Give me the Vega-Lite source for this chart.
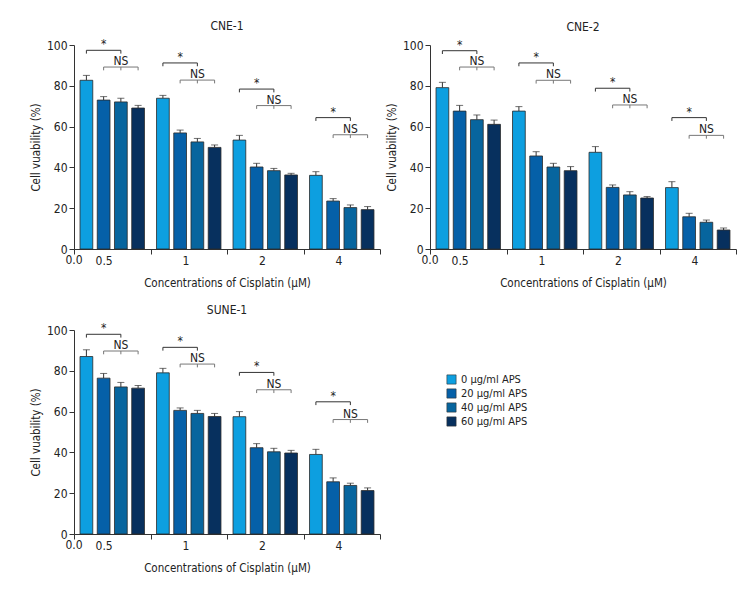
{
  "$schema": "https://vega.github.io/schema/vega-lite/v6.json",
  "padding": {"left": 30, "top": 20, "right": 5, "bottom": 5},
  "config": {
    "font": "DejaVu Sans Condensed, sans-serif",
    "view": {"stroke": null},
    "axis": {"grid": false, "domainColor": "#333", "tickColor": "#333", "labelColor": "#222", "titleColor": "#222", "labelFontSize": 12, "titleFontSize": 11.5, "titleFontWeight": "normal", "labelFont": "DejaVu Sans Condensed, sans-serif", "titleFont": "DejaVu Sans Condensed, sans-serif"},
    "legend": {"labelFontSize": 11, "labelFont": "DejaVu Sans Condensed, sans-serif", "labelColor": "#222"},
    "header": {"labelFontSize": 12, "labelFont": "DejaVu Sans Condensed, sans-serif", "labelColor": "#222"}
  },
  "data": {"values": [
    {"k":"bar","cell":"CNE-1","conc":"0.5","aps":"0 µg/ml APS","v":82.7,"e":85.1},
    {"k":"bar","cell":"CNE-1","conc":"0.5","aps":"20 µg/ml APS","v":73.0,"e":74.7},
    {"k":"bar","cell":"CNE-1","conc":"0.5","aps":"40 µg/ml APS","v":72.1,"e":73.9},
    {"k":"bar","cell":"CNE-1","conc":"0.5","aps":"60 µg/ml APS","v":69.1,"e":70.4},
    {"k":"bar","cell":"CNE-1","conc":"1","aps":"0 µg/ml APS","v":73.9,"e":75.3},
    {"k":"bar","cell":"CNE-1","conc":"1","aps":"20 µg/ml APS","v":56.9,"e":58.3},
    {"k":"bar","cell":"CNE-1","conc":"1","aps":"40 µg/ml APS","v":52.5,"e":54.2},
    {"k":"bar","cell":"CNE-1","conc":"1","aps":"60 µg/ml APS","v":49.8,"e":51.0},
    {"k":"bar","cell":"CNE-1","conc":"2","aps":"0 µg/ml APS","v":53.4,"e":55.7},
    {"k":"bar","cell":"CNE-1","conc":"2","aps":"20 µg/ml APS","v":40.2,"e":42.0},
    {"k":"bar","cell":"CNE-1","conc":"2","aps":"40 µg/ml APS","v":38.4,"e":39.5},
    {"k":"bar","cell":"CNE-1","conc":"2","aps":"60 µg/ml APS","v":36.3,"e":37.1},
    {"k":"bar","cell":"CNE-1","conc":"4","aps":"0 µg/ml APS","v":36.1,"e":37.9},
    {"k":"bar","cell":"CNE-1","conc":"4","aps":"20 µg/ml APS","v":23.5,"e":24.7},
    {"k":"bar","cell":"CNE-1","conc":"4","aps":"40 µg/ml APS","v":20.3,"e":21.6},
    {"k":"bar","cell":"CNE-1","conc":"4","aps":"60 µg/ml APS","v":19.3,"e":20.8},
    {"k":"bar","cell":"CNE-2","conc":"0.5","aps":"0 µg/ml APS","v":79.1,"e":81.7},
    {"k":"bar","cell":"CNE-2","conc":"0.5","aps":"20 µg/ml APS","v":67.6,"e":70.4},
    {"k":"bar","cell":"CNE-2","conc":"0.5","aps":"40 µg/ml APS","v":63.4,"e":65.7},
    {"k":"bar","cell":"CNE-2","conc":"0.5","aps":"60 µg/ml APS","v":61.1,"e":63.2},
    {"k":"bar","cell":"CNE-2","conc":"1","aps":"0 µg/ml APS","v":67.6,"e":69.8},
    {"k":"bar","cell":"CNE-2","conc":"1","aps":"20 µg/ml APS","v":45.6,"e":47.7},
    {"k":"bar","cell":"CNE-2","conc":"1","aps":"40 µg/ml APS","v":40.2,"e":42.0},
    {"k":"bar","cell":"CNE-2","conc":"1","aps":"60 µg/ml APS","v":38.4,"e":40.4},
    {"k":"bar","cell":"CNE-2","conc":"2","aps":"0 µg/ml APS","v":47.4,"e":50.2},
    {"k":"bar","cell":"CNE-2","conc":"2","aps":"20 µg/ml APS","v":30.2,"e":31.4},
    {"k":"bar","cell":"CNE-2","conc":"2","aps":"40 µg/ml APS","v":26.5,"e":28.1},
    {"k":"bar","cell":"CNE-2","conc":"2","aps":"60 µg/ml APS","v":25.0,"e":25.7},
    {"k":"bar","cell":"CNE-2","conc":"4","aps":"0 µg/ml APS","v":30.1,"e":33.0},
    {"k":"bar","cell":"CNE-2","conc":"4","aps":"20 µg/ml APS","v":15.8,"e":17.5},
    {"k":"bar","cell":"CNE-2","conc":"4","aps":"40 µg/ml APS","v":13.1,"e":14.2},
    {"k":"bar","cell":"CNE-2","conc":"4","aps":"60 µg/ml APS","v":9.3,"e":10.3},
    {"k":"bar","cell":"SUNE-1","conc":"0.5","aps":"0 µg/ml APS","v":87.0,"e":90.3},
    {"k":"bar","cell":"SUNE-1","conc":"0.5","aps":"20 µg/ml APS","v":76.4,"e":78.7},
    {"k":"bar","cell":"SUNE-1","conc":"0.5","aps":"40 µg/ml APS","v":72.1,"e":74.3},
    {"k":"bar","cell":"SUNE-1","conc":"0.5","aps":"60 µg/ml APS","v":71.5,"e":72.8},
    {"k":"bar","cell":"SUNE-1","conc":"1","aps":"0 µg/ml APS","v":79.0,"e":81.2},
    {"k":"bar","cell":"SUNE-1","conc":"1","aps":"20 µg/ml APS","v":60.6,"e":61.8},
    {"k":"bar","cell":"SUNE-1","conc":"1","aps":"40 µg/ml APS","v":59.1,"e":60.6},
    {"k":"bar","cell":"SUNE-1","conc":"1","aps":"60 µg/ml APS","v":57.6,"e":59.1},
    {"k":"bar","cell":"SUNE-1","conc":"2","aps":"0 µg/ml APS","v":57.5,"e":60.0},
    {"k":"bar","cell":"SUNE-1","conc":"2","aps":"20 µg/ml APS","v":42.3,"e":44.3},
    {"k":"bar","cell":"SUNE-1","conc":"2","aps":"40 µg/ml APS","v":40.3,"e":42.0},
    {"k":"bar","cell":"SUNE-1","conc":"2","aps":"60 µg/ml APS","v":39.7,"e":41.0},
    {"k":"bar","cell":"SUNE-1","conc":"4","aps":"0 µg/ml APS","v":39.0,"e":41.5},
    {"k":"bar","cell":"SUNE-1","conc":"4","aps":"20 µg/ml APS","v":25.6,"e":27.5},
    {"k":"bar","cell":"SUNE-1","conc":"4","aps":"40 µg/ml APS","v":23.8,"e":24.9},
    {"k":"bar","cell":"SUNE-1","conc":"4","aps":"60 µg/ml APS","v":21.3,"e":22.6},

    {"k":"br","cell":"CNE-1","conc":"0.5","id":"*","y":97.4,"a":"0 µg/ml APS","b":"40 µg/ml APS","c":"20 µg/ml APS"},
    {"k":"br","cell":"CNE-1","conc":"0.5","id":"NS","y":89.2,"a":"20 µg/ml APS","b":"60 µg/ml APS","c":"40 µg/ml APS","mt":"40 µg/ml APS"},
    {"k":"br","cell":"CNE-1","conc":"1","id":"*","y":91.2,"a":"0 µg/ml APS","b":"40 µg/ml APS","c":"20 µg/ml APS"},
    {"k":"br","cell":"CNE-1","conc":"1","id":"NS","y":82.8,"a":"20 µg/ml APS","b":"60 µg/ml APS","c":"40 µg/ml APS","mt":"40 µg/ml APS"},
    {"k":"br","cell":"CNE-1","conc":"2","id":"*","y":78.4,"a":"0 µg/ml APS","b":"40 µg/ml APS","c":"20 µg/ml APS"},
    {"k":"br","cell":"CNE-1","conc":"2","id":"NS","y":70.3,"a":"20 µg/ml APS","b":"60 µg/ml APS","c":"40 µg/ml APS","mt":"40 µg/ml APS"},
    {"k":"br","cell":"CNE-1","conc":"4","id":"*","y":64.4,"a":"0 µg/ml APS","b":"40 µg/ml APS","c":"20 µg/ml APS"},
    {"k":"br","cell":"CNE-1","conc":"4","id":"NS","y":56.0,"a":"20 µg/ml APS","b":"60 µg/ml APS","c":"40 µg/ml APS","mt":"40 µg/ml APS"},
    {"k":"br","cell":"CNE-2","conc":"0.5","id":"*","y":97.2,"a":"0 µg/ml APS","b":"40 µg/ml APS","c":"20 µg/ml APS"},
    {"k":"br","cell":"CNE-2","conc":"0.5","id":"NS","y":89.2,"a":"20 µg/ml APS","b":"60 µg/ml APS","c":"40 µg/ml APS","mt":"40 µg/ml APS"},
    {"k":"br","cell":"CNE-2","conc":"1","id":"*","y":91.2,"a":"0 µg/ml APS","b":"40 µg/ml APS","c":"20 µg/ml APS"},
    {"k":"br","cell":"CNE-2","conc":"1","id":"NS","y":82.7,"a":"20 µg/ml APS","b":"60 µg/ml APS","c":"40 µg/ml APS","mt":"40 µg/ml APS"},
    {"k":"br","cell":"CNE-2","conc":"2","id":"*","y":78.8,"a":"0 µg/ml APS","b":"40 µg/ml APS","c":"20 µg/ml APS"},
    {"k":"br","cell":"CNE-2","conc":"2","id":"NS","y":70.6,"a":"20 µg/ml APS","b":"60 µg/ml APS","c":"40 µg/ml APS","mt":"40 µg/ml APS"},
    {"k":"br","cell":"CNE-2","conc":"4","id":"*","y":64.4,"a":"0 µg/ml APS","b":"40 µg/ml APS","c":"20 µg/ml APS"},
    {"k":"br","cell":"CNE-2","conc":"4","id":"NS","y":55.7,"a":"20 µg/ml APS","b":"60 µg/ml APS","c":"40 µg/ml APS","mt":"40 µg/ml APS"},
    {"k":"br","cell":"SUNE-1","conc":"0.5","id":"*","y":97.9,"a":"0 µg/ml APS","b":"40 µg/ml APS","c":"20 µg/ml APS"},
    {"k":"br","cell":"SUNE-1","conc":"0.5","id":"NS","y":89.7,"a":"20 µg/ml APS","b":"60 µg/ml APS","c":"40 µg/ml APS","mt":"40 µg/ml APS"},
    {"k":"br","cell":"SUNE-1","conc":"1","id":"*","y":91.5,"a":"0 µg/ml APS","b":"40 µg/ml APS","c":"20 µg/ml APS"},
    {"k":"br","cell":"SUNE-1","conc":"1","id":"NS","y":83.3,"a":"20 µg/ml APS","b":"60 µg/ml APS","c":"40 µg/ml APS","mt":"40 µg/ml APS"},
    {"k":"br","cell":"SUNE-1","conc":"2","id":"*","y":79.2,"a":"0 µg/ml APS","b":"40 µg/ml APS","c":"20 µg/ml APS"},
    {"k":"br","cell":"SUNE-1","conc":"2","id":"NS","y":70.7,"a":"20 µg/ml APS","b":"60 µg/ml APS","c":"40 µg/ml APS","mt":"40 µg/ml APS"},
    {"k":"br","cell":"SUNE-1","conc":"4","id":"*","y":64.8,"a":"0 µg/ml APS","b":"40 µg/ml APS","c":"20 µg/ml APS"},
    {"k":"br","cell":"SUNE-1","conc":"4","id":"NS","y":56.1,"a":"20 µg/ml APS","b":"60 µg/ml APS","c":"40 µg/ml APS","mt":"40 µg/ml APS"},

    {"k":"z","cell":"CNE-1","conc":"0.5","label":"0.0"},
    {"k":"z","cell":"CNE-2","conc":"0.5","label":"0.0"},
    {"k":"z","cell":"SUNE-1","conc":"0.5","label":"0.0"}
  ]},
  "facet": {"field": "cell", "type": "nominal", "header": {"title": null, "labelPadding": 5}},
  "columns": 2,
  "spacing": {"row": 15, "column": 5},
  "resolve": {"axis": {"x": "independent", "y": "independent"}},
  "spec": {
    "width": 306,
    "height": 204,
    "layer": [
      {
        "transform": [{"filter": "datum.k == 'bar'"}],
        "mark": {"type": "rule", "color": "#333", "strokeWidth": 1},
        "encoding": {
          "x": {"field": "conc", "type": "nominal"},
          "xOffset": {"field": "aps", "type": "nominal"},
          "y": {"field": "v", "type": "quantitative"},
          "y2": {"field": "e"}
        }
      },
      {
        "transform": [{"filter": "datum.k == 'bar'"}],
        "mark": {"type": "tick", "orient": "horizontal", "size": 7, "thickness": 1, "color": "#333"},
        "encoding": {
          "x": {"field": "conc", "type": "nominal"},
          "xOffset": {"field": "aps", "type": "nominal"},
          "y": {"field": "e", "type": "quantitative"}
        }
      },
      {
        "transform": [{"filter": "datum.k == 'bar'"}],
        "mark": {"type": "bar", "stroke": "#2a2a2a", "strokeWidth": 0.8},
        "encoding": {
          "x": {
            "field": "conc", "type": "nominal",
            "scale": {"domain": ["0.5", "1", "2", "4"], "paddingInner": 0, "paddingOuter": 0},
            "axis": {"title": "Concentrations of Cisplatin (µM)", "labelAngle": 0, "tickBand": "extent", "tickSize": 5, "labelPadding": 6, "titlePadding": 11}
          },
          "xOffset": {
            "field": "aps", "type": "nominal",
            "scale": {"domain": ["0 µg/ml APS", "20 µg/ml APS", "40 µg/ml APS", "60 µg/ml APS"], "paddingInner": 0.26, "paddingOuter": 0.35}
          },
          "y": {
            "field": "v", "type": "quantitative",
            "scale": {"domain": [0, 100], "nice": false},
            "axis": {"title": "Cell vuability (%)", "values": [0, 20, 40, 60, 80, 100], "tickSize": 5, "titlePadding": 5}
          },
          "color": {
            "field": "aps", "type": "nominal",
            "scale": {"domain": ["0 µg/ml APS", "20 µg/ml APS", "40 µg/ml APS", "60 µg/ml APS"], "range": ["#0d9fe0", "#0560a8", "#07659e", "#07305e"]},
            "legend": {"title": null, "orient": "none", "legendX": 372, "legendY": 329, "symbolType": "square", "symbolSize": 85, "symbolStrokeColor": "#333", "symbolStrokeWidth": 0.6, "rowPadding": 1, "labelOffset": 4}
          }
        }
      },
      {
        "transform": [{"filter": "datum.k == 'br'"}, {"fold": ["a", "b"], "as": ["end", "aps"]}],
        "mark": {"type": "line", "strokeWidth": 1},
        "encoding": {
          "x": {"field": "conc", "type": "nominal"},
          "xOffset": {"field": "aps", "type": "nominal"},
          "y": {"field": "y", "type": "quantitative"},
          "detail": [{"field": "conc"}, {"field": "id"}],
          "stroke": {"condition": {"test": "datum.id == '*'", "value": "#333"}, "value": "#777"}
        }
      },
      {
        "transform": [{"filter": "datum.k == 'br'"}, {"fold": ["a", "b", "mt"], "as": ["end", "aps"]}, {"filter": "datum.aps != null"}],
        "mark": {"type": "rule", "strokeWidth": 1, "y2Offset": 3.3},
        "encoding": {
          "x": {"field": "conc", "type": "nominal"},
          "xOffset": {"field": "aps", "type": "nominal"},
          "y": {"field": "y", "type": "quantitative"},
          "y2": {"field": "y"},
          "stroke": {"condition": {"test": "datum.id == '*'", "value": "#333"}, "value": "#777"}
        }
      },
      {
        "transform": [{"filter": "datum.k == 'br'"}],
        "mark": {"type": "text", "fontSize": 12, "baseline": "alphabetic", "dy": -2, "fill": "#222"},
        "encoding": {
          "x": {"field": "conc", "type": "nominal"},
          "xOffset": {"field": "c", "type": "nominal"},
          "y": {"field": "y", "type": "quantitative"},
          "text": {"field": "id"}
        }
      },
      {
        "transform": [{"filter": "datum.k == 'z'"}],
        "mark": {"type": "text", "fontSize": 12, "baseline": "top", "dy": 6, "fill": "#222"},
        "encoding": {
          "x": {"field": "conc", "type": "nominal", "bandPosition": 0},
          "y": {"datum": 0},
          "text": {"field": "label"}
        }
      }
    ]
  }
}
